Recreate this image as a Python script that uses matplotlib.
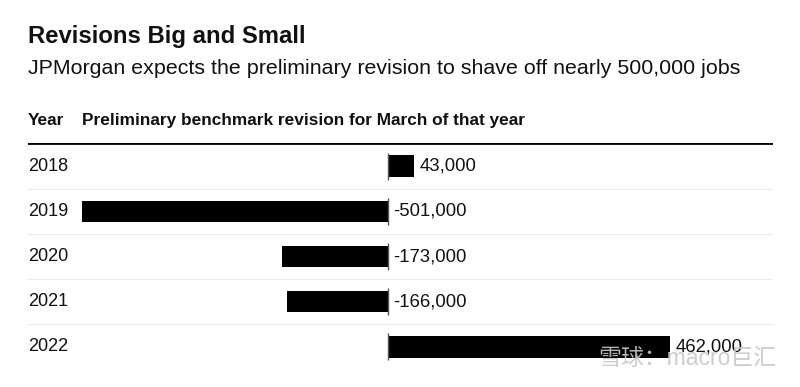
import matplotlib.pyplot as plt

plt.rcParams['font.family'] = ['Liberation Sans', 'Noto Sans CJK SC', 'DejaVu Sans']

# Data
years = ['2018', '2019', '2020', '2021', '2022']
revisions = [43000, -501000, -173000, -166000, 462000]
value_labels = ['43,000', '-501,000', '-173,000', '-166,000', '462,000']

fig = plt.figure(figsize=(8, 3.87), dpi=100)
ax = fig.add_axes([0.035, 0.0452, 0.93125, 0.584])

rows = list(range(len(years)))
ax.barh(rows, revisions, height=0.47, color='black')
ax.set_xlim(-589000, 630000)
ax.set_ylim(4.5, -0.5)
ax.axis('off')

# zero ticks per row
for r in rows:
    ax.plot([0, 0], [r - 0.3, r + 0.3], color='#555555', lw=1, solid_capstyle='butt')

# row separators and header rule
for r in rows[:-1]:
    ax.axhline(r + 0.5, color='#ececec', lw=0.8)
ax.axhline(-0.5, color='black', lw=2)

# year labels and value labels
for r, y, v, lab in zip(rows, years, revisions, value_labels):
    ax.text(-589000, r, y, ha='left', va='center', fontsize=13, color='#111111')
    ax.annotate(lab, (max(v, 0), r), xytext=(4, 0), textcoords='offset points',
                ha='left', va='center', fontsize=13.3, color='#111111')

# titles
fig.text(0.035, 0.89, 'Revisions Big and Small', fontsize=17.2, fontweight='bold', color='#111111')
fig.text(0.035, 0.81, 'JPMorgan expects the preliminary revision to shave off nearly 500,000 jobs',
         fontsize=15.4, color='#111111')
fig.text(0.035, 0.677, 'Year', fontsize=12.4, fontweight='bold', color='#111111')
fig.text(0.103, 0.677, 'Preliminary benchmark revision for March of that year', fontsize=12.4,
         fontweight='bold', color='#111111')

# watermark
fig.text(0.97, 0.045, '雪球：macro巨汇', fontsize=16.5, color='#c8c8c8', ha='right', va='bottom',
         alpha=0.9)

fig.savefig('out.png', dpi=100)
